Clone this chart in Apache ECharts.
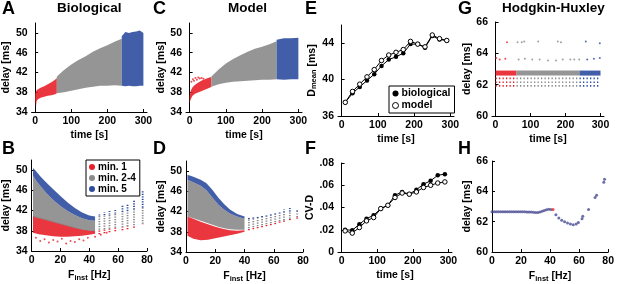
<!DOCTYPE html>
<html><head><meta charset="utf-8">
<script src="https://cdn.jsdelivr.net/npm/echarts@6/dist/echarts.min.js"></script>
<style>html,body{margin:0;padding:0;background:#fff}#c{width:617px;height:284px}</style>
</head><body><div id="c"></div><script>
// ---------- Panel A (biological, delay vs time) ----------
const aRedT=[0,2,4,8,15,25,35,45,55,60];
const aRedLo=[36.6,35.0,36.2,36.6,36.9,37.1,37.3,37.4,37.6,37.8];
const aRedHi=[37.6,38.1,38.4,38.6,38.9,39.2,39.6,40.0,40.5,40.9];
const aGreyT=[60,80,100,120,140,160,180,200,220,240];
const aGreyLo=[37.8,38.0,38.3,38.6,38.9,39.1,39.3,39.3,39.4,39.3];
const aGreyHi=[41.2,42.5,43.6,44.5,45.3,46.2,46.9,47.5,48.2,48.8];
const aBlueT=[240,250,260,270,280,290,300];
const aBlueLo=[39.3,39.2,39.3,39.2,39.2,39.3,39.3];
const aBlueHi=[49.3,50.2,50.0,50.2,50.3,50.5,50.0];
// ---------- Panel C (model, delay vs time) ----------
const cRedT=[0,3,8,15,25,35,45,55,60];
const cRedLo=[35.8,36.6,37.3,37.7,38.0,38.3,38.6,38.9,39.1];
const cRedHi=[37.2,38.3,39.0,39.5,40.0,40.4,40.7,41.0,41.1];
const cRedOutT=[5,9,12,16,20,24,28,33,38];
const cRedOutY=[40.1,40.6,40.3,40.9,40.5,41.0,40.8,40.9,40.7];
const cGreyT=[60,80,100,120,140,160,180,200,220,240];
const cGreyLo=[39.1,39.6,39.9,40.1,40.2,40.3,40.4,40.5,40.5,40.6];
const cGreyHi=[41.2,42.6,43.8,44.7,45.5,46.2,46.8,47.2,47.7,48.3];
const cBlueT=[240,260,280,300];
const cBlueLo=[40.6,40.5,40.6,40.6];
const cBlueHi=[48.6,48.9,48.9,49.0];
// ---------- Panel B (biological, delay vs Finst) ----------
const bF=[1,3,6,10,15,20,25,30,35,40,44];
const bBlueHi=[50.4,49.8,48.8,47.6,46.2,44.9,43.6,42.5,41.6,41.0,40.8];
const bBlueLo=[48.9,48.0,46.9,45.5,44.1,42.9,41.9,41.1,40.5,40.1,40.0];
const bGreyLo=[40.8,40.6,40.4,40.1,39.7,39.3,38.9,38.5,38.2,38.0,37.9];
const bRedF=[1,5,10,15,20,25,30,35,40,44];
const bRedHi=[41.0,40.7,40.3,39.9,39.5,39.1,38.7,38.3,38.1,38.0];
const bRedLo=[37.6,37.3,37.1,36.9,36.8,36.8,36.9,37.0,37.2,37.4];
const bRedOutF=[3,6,9,12,15,18,21,24,27,30,33,36,39,44,48,52];
const bRedOutY=[36.6,36.0,36.3,35.7,36.2,35.9,36.4,35.5,36.0,35.8,36.3,36.1,36.6,36.8,37.2,37.6];
const bColF=[47,50.5,54,58,63,66.5,71,77];
const bColRedLo=[37.3,37.5,37.7,37.9,38.1,38.3,38.6,39.3];
const bColGreyLo=[38.2,38.3,38.4,38.6,38.7,38.9,39.1,39.4];
const bColGreyHi=[41.0,41.1,41.2,41.4,41.7,41.9,42.2,42.6];
const bColBlueHi=[41.5,41.7,41.9,42.3,43.2,43.4,44.0,46.0];
// ---------- Panel D (model, delay vs Finst) ----------
const dF=[1,5,10,14,18,22,26,30,35,40];
const dBlueHi=[49.3,48.9,48.3,47.6,46.3,44.8,43.5,42.4,41.5,41.0];
const dBlueLo=[48.3,47.8,47.1,46.2,44.8,43.4,42.4,41.6,41.0,40.6];
const dGreyLo=[41.0,40.7,40.2,39.8,39.4,39.0,38.7,38.5,38.4,38.4];
const dRedF=[1,5,10,15,20,25,30,35,40];
const dRedHi=[41.0,40.6,40.0,39.5,39.0,38.6,38.3,38.2,38.3];
const dRedLo=[37.2,36.6,36.3,36.4,36.7,37.0,37.3,37.6,38.0];
const dColF=[43,46,49,52,55,58,61,64,67,71,76];
const dColRedLo=[38.3,38.5,38.7,38.9,39.1,39.3,39.5,39.8,40.0,40.3,40.6];
const dColGreyLo=[38.7,38.9,39.1,39.3,39.5,39.7,39.9,40.1,40.3,40.6,40.9];
const dColGreyHi=[40.5,40.6,40.7,40.9,41.0,41.2,41.4,41.6,41.8,42.0,42.0];
const dColBlueHi=[40.9,41.0,41.1,41.2,41.4,41.6,41.8,42.1,42.4,42.7,42.4];
// ---------- Panels E, F (mean delay and CV over time) ----------
const efT=[10,30,50,70,90,110,130,150,170,190,210,230,250,270,290];
const eBio=[37.5,38.5,39.2,39.9,40.6,41.5,42.2,42.5,42.9,43.9,43.9,43.5,44.8,44.4,44.3];
const eModel=[37.5,38.7,39.5,40.3,41.1,42.1,42.7,43.0,43.3,44.2,43.9,43.6,44.9,44.5,44.3];
const fBio=[0.020,0.0195,0.025,0.030,0.033,0.039,0.042,0.051,0.054,0.052,0.056,0.061,0.064,0.069,0.070];
const fModel=[0.019,0.017,0.022,0.028,0.031,0.039,0.042,0.049,0.053,0.052,0.054,0.058,0.060,0.062,0.063];
// ---------- Panel G (Hodgkin-Huxley, delay vs time) ----------
const gSegT0=[0,60,240];
const gSegT1=[60,240,300];
const gBandLo=62.58, gBandHi=62.9;
const gRows=[62.4,62.15,61.92];
const gRedPtT=[2,12,28,33];
const gRedPtY=[63.7,63.6,63.65,64.7];
const gGreyPtT=[63,75,82,122,178,187,66,84,105,126,150,173,192,214,225,239];
const gGreyPtY=[64.7,64.7,64.75,64.75,64.75,64.7,63.6,63.65,63.6,63.6,63.55,63.55,63.6,63.6,63.6,63.6];
const gBluePtT=[258,298,262,281,298];
const gBluePtY=[64.75,64.65,63.6,63.65,63.7];
// ---------- Panel H (Hodgkin-Huxley, delay vs Finst) ----------
const hF=[0,1.5,3,4.5,6,7.5,9,10.5,12,13.5,15,16.5,18,19.5,21,22.5,24,25.5,27,28.5,30,31.5,33,34.5,36,37.5,39,40.5,44,46,48,50,52,54,56,58,59.5,62,62.5,66.5,71,72,77,77.5];
const hY=[62.65,62.65,62.65,62.65,62.65,62.65,62.65,62.65,62.65,62.65,62.65,62.65,62.65,62.65,62.65,62.65,62.64,62.64,62.63,62.62,62.6,62.6,62.63,62.68,62.74,62.79,62.82,62.8,62.45,62.25,62.1,62.0,61.92,61.85,61.8,61.85,61.95,62.2,62.35,62.8,63.6,63.75,64.6,64.8];
const hRedF=[42];
const hRedY=[62.8];
// ---------- tick values ----------
const delayTicks=[34,38,42,46,50];
const timeTicks=[0,100,200,300];
const freqTicks=[0,20,40,60,80];
const dmeanTicks=[36,40,44];
const cvTicks=[0,0.02,0.04,0.06,0.08];
const hhTicks=[60,62,64,66];

const RED='#e8202a', GREY='#8a8a8a', BLUE='#2d4c9f', HHC='#474b92';
const FONT='Liberation Sans';

const grids=[], xAxes=[], yAxes=[], series=[];
const rich={b:{fontSize:10.5,fontWeight:'bold',fontFamily:FONT,color:'#000'},s:{fontSize:7.5,fontWeight:'bold',fontFamily:FONT,color:'#000',padding:[5,0,0,0]}};
function addPanel(box,xr,xt,xname,yr,yt,yname,yfmt){
  const gi=grids.length;
  grids.push(box);
  const lab={fontSize:10.5,fontWeight:'bold',fontFamily:FONT,color:'#000',margin:4};
  xAxes.push({type:'value',gridIndex:gi,min:xr[0],max:xr[1],name:xname,nameLocation:'middle',nameGap:18,
    nameTextStyle:{fontSize:10.5,fontWeight:'bold',fontFamily:FONT,color:'#000',rich},
    axisLine:{lineStyle:{color:'#000',width:1}},splitLine:{show:false},
    axisTick:{inside:true,length:3,customValues:xt,lineStyle:{color:'#000'}},
    axisLabel:Object.assign({customValues:xt},lab)});
  yAxes.push({type:'value',gridIndex:gi,min:yr[0],max:yr[1],name:yname,nameLocation:'middle',nameGap:yfmt?22:18,nameRotate:90,
    nameTextStyle:{fontSize:10.5,fontWeight:'bold',fontFamily:FONT,color:'#000',rich},
    axisLine:{lineStyle:{color:'#000',width:1}},splitLine:{show:false},
    axisTick:{inside:true,length:3,customValues:yt,lineStyle:{color:'#000'}},
    axisLabel:Object.assign({customValues:yt,formatter:yfmt||(v=>String(v))},lab)});
  return gi;
}
function band(gi,xs,lo,hi,color,name){
  series.push({type:'custom',name,xAxisIndex:gi,yAxisIndex:gi,silent:true,itemStyle:{color},
    data:[[xs[0],lo[0]]],
    renderItem:(p,api)=>{const pts=[];
      for(let i=0;i<xs.length;i++)pts.push(api.coord([xs[i],hi[i]]));
      for(let i=xs.length-1;i>=0;i--)pts.push(api.coord([xs[i],lo[i]]));
      return {type:'polygon',shape:{points:pts},style:{fill:color,opacity:0.9}};}});
}
function cols(gi,xs,lo,hi,color,name){
  series.push({type:'custom',name,xAxisIndex:gi,yAxisIndex:gi,silent:true,itemStyle:{color},
    data:xs.map((x,i)=>[x,lo[i],hi[i]]),encode:{x:0,y:[1,2]},
    renderItem:(p,api)=>{const a=api.coord([api.value(0),api.value(1)]),b=api.coord([api.value(0),api.value(2)]);
      return {type:'line',shape:{x1:a[0],y1:a[1],x2:b[0],y2:b[1]},style:{stroke:color,lineWidth:1.8,lineDash:[1.2,1.3]}};}});
}
function rows(gi,x0,x1,y,color,dash,w,name){
  series.push({type:'custom',name,xAxisIndex:gi,yAxisIndex:gi,silent:true,itemStyle:{color},
    data:y.map(v=>[x0,v,x1]),encode:{x:[0,2],y:1},
    renderItem:(p,api)=>{const a=api.coord([api.value(0),api.value(1)]),b=api.coord([api.value(2),api.value(1)]);
      return {type:'line',shape:{x1:a[0],y1:a[1],x2:b[0],y2:b[1]},style:{stroke:color,lineWidth:w,lineDash:dash}};}});
}
function pts(gi,xs,ys,color,size,name){
  series.push({type:'scatter',name,xAxisIndex:gi,yAxisIndex:gi,silent:true,symbol:'circle',symbolSize:size,
    itemStyle:{color},data:xs.map((x,i)=>[x,ys[i]])});
}
const tName='time [s]', fName='{b|F}{s|inst}{b| [Hz]}';
// A
let g=addPanel({left:31,top:23,width:116,height:89},[-10,310],timeTicks,tName,[34,52],delayTicks,'delay [ms]');
band(g,aRedT,aRedLo,aRedHi,RED,'min. 1');
band(g,aGreyT,aGreyLo,aGreyHi,GREY,'min. 2-4');
band(g,aBlueT,aBlueLo,aBlueHi,BLUE,'min. 5');
// C
g=addPanel({left:186,top:23,width:116,height:89},[-10,310],timeTicks,tName,[34,52],delayTicks,'delay [ms]');
band(g,cRedT,cRedLo,cRedHi,RED,'min. 1');
pts(g,cRedOutT,cRedOutY,RED,2,'min. 1');
band(g,cGreyT,cGreyLo,cGreyHi,GREY,'min. 2-4');
band(g,cBlueT,cBlueLo,cBlueHi,BLUE,'min. 5');
// E
g=addPanel({left:338,top:25,width:116,height:91},[-10,310],timeTicks,tName,[36,46],dmeanTicks,'{b|D}{s|mean}{b| [ms]}');
series.push({type:'line',name:'biological',xAxisIndex:g,yAxisIndex:g,data:efT.map((t,i)=>[t,eBio[i]]),symbol:'circle',symbolSize:4.5,
  lineStyle:{color:'#000',width:1},itemStyle:{color:'#000'}});
series.push({type:'line',name:'model',xAxisIndex:g,yAxisIndex:g,data:efT.map((t,i)=>[t,eModel[i]]),symbol:'circle',symbolSize:4.5,
  lineStyle:{color:'#000',width:1},itemStyle:{color:'#fff',borderColor:'#000',borderWidth:1}});
// G
g=addPanel({left:492,top:22,width:112,height:94},[-10,310],timeTicks,tName,[60,66],hhTicks,'delay [ms]');
const gCols=[RED,GREY,BLUE];
for(let k=0;k<3;k++){
  band(g,[gSegT0[k],gSegT1[k]],[gBandLo,gBandLo],[gBandHi,gBandHi],gCols[k],'hh'+k);
  rows(g,gSegT0[k],gSegT1[k],gRows,gCols[k],[1.3,2.2],1.6,'hh'+k);
}
pts(g,gRedPtT,gRedPtY,RED,2,'hhr');
pts(g,gGreyPtT,gGreyPtY,GREY,2,'hhg');
pts(g,gBluePtT,gBluePtY,BLUE,2,'hhb');
// B
g=addPanel({left:31,top:160,width:116,height:91},[0,80],freqTicks,fName,[34,52],delayTicks,'delay [ms]');
band(g,bRedF,bRedLo,bRedHi,RED,'min. 1');
pts(g,bRedOutF,bRedOutY,RED,2,'min. 1');
band(g,bF,bGreyLo,bBlueLo,GREY,'min. 2-4');
band(g,bF,bBlueLo,bBlueHi,BLUE,'min. 5');
cols(g,bColF,bColRedLo,bColGreyLo,RED,'min. 1');
cols(g,bColF,bColGreyLo,bColGreyHi,GREY,'min. 2-4');
cols(g,bColF,bColGreyHi,bColBlueHi,BLUE,'min. 5');
// D
g=addPanel({left:186,top:161,width:117,height:91},[0,80],freqTicks,fName,[34,52],delayTicks,'delay [ms]');
band(g,dRedF,dRedLo,dRedHi,RED,'min. 1');
band(g,dF,dGreyLo,dBlueLo,GREY,'min. 2-4');
band(g,dF,dBlueLo,dBlueHi,BLUE,'min. 5');
cols(g,dColF,dColRedLo,dColGreyLo,RED,'min. 1');
cols(g,dColF,dColGreyLo,dColGreyHi,GREY,'min. 2-4');
cols(g,dColF,dColGreyHi,dColBlueHi,BLUE,'min. 5');
// F
g=addPanel({left:338,top:163,width:114,height:89},[-10,310],timeTicks,tName,[0,0.08],cvTicks,'CV-D',v=>v===0?'0':String(v).replace('0.','.'));
series.push({type:'line',name:'biological',xAxisIndex:g,yAxisIndex:g,data:efT.map((t,i)=>[t,fBio[i]]),symbol:'circle',symbolSize:4.5,
  lineStyle:{color:'#000',width:1},itemStyle:{color:'#000'}});
series.push({type:'line',name:'model',xAxisIndex:g,yAxisIndex:g,data:efT.map((t,i)=>[t,fModel[i]]),symbol:'circle',symbolSize:4.5,
  lineStyle:{color:'#000',width:1},itemStyle:{color:'#fff',borderColor:'#000',borderWidth:1}});
// H
g=addPanel({left:492,top:161,width:118,height:91},[0,80],freqTicks,fName,[60,66],hhTicks,'delay [ms]');
pts(g,hF,hY,HHC,3,'hhh');
pts(g,hRedF,hRedY,RED,3,'hhh2');

const txt=(x,y,s,size,align)=>({type:'text',left:x,top:y,style:{text:s,font:'bold '+size+'px "'+FONT+'"',fill:'#000',textAlign:align||'left'}});
const chart=echarts.init(document.getElementById('c'),null,{renderer:'canvas'});
chart.setOption({
  animation:false,
  grid:grids,xAxis:xAxes,yAxis:yAxes,series,
  legend:[
    {left:86,top:160,orient:'vertical',itemGap:1,itemWidth:6,itemHeight:6,icon:'circle',padding:[2,4,2,3],
     borderColor:'#000',borderWidth:1,borderRadius:0,backgroundColor:'#fff',selectedMode:false,
     textStyle:{fontSize:10,fontWeight:'bold',fontFamily:FONT,color:'#000',padding:[0,0,0,-2]},
     data:['min. 1','min. 2-4','min. 5']},
    {left:389,top:86,orient:'vertical',itemGap:1,itemWidth:6,itemHeight:6,icon:'circle',padding:[2,4,2,3],
     borderColor:'#000',borderWidth:1,borderRadius:0,backgroundColor:'#fff',selectedMode:false,
     textStyle:{fontSize:10.5,fontWeight:'bold',fontFamily:FONT,color:'#000',padding:[0,0,0,-2]},
     data:[{name:'biological',itemStyle:{color:'#000'}},{name:'model',itemStyle:{color:'#fff',borderColor:'#000',borderWidth:1}}]}
  ],
  graphic:[
    txt(2,0,'A',18),txt(2,140,'B',18),txt(153,0,'C',18),txt(153,140,'D',18),
    txt(305,0,'E',18),txt(305,140,'F',18),txt(458,0,'G',18),txt(458,140,'H',18),
    txt(57,1,'Biological',13.5),txt(228,1,'Model',13.5),txt(502,1,'Hodgkin-Huxley',13.5)
  ]
});
</script></body></html>
